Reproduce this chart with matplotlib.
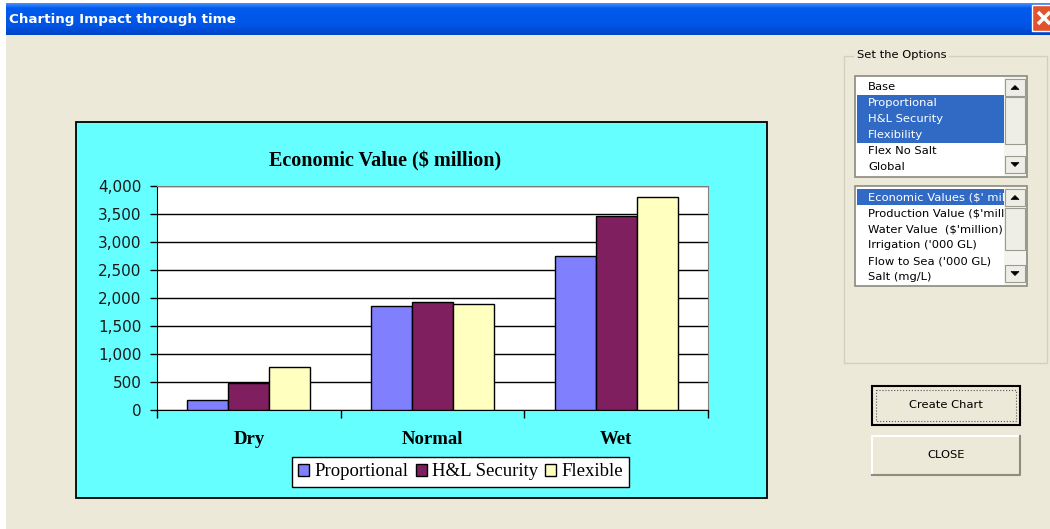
## Recreation of the "Charting Impact through time" dialog with its Economic Value chart

import numpy as np
import matplotlib
matplotlib.use('Agg')
import matplotlib.pyplot as plt
from matplotlib.patches import Rectangle, Polygon
from matplotlib.ticker import FuncFormatter


## Chart data

categories = ['Dry', 'Normal', 'Wet']
series_names = ['Proportional', 'H&L Security', 'Flexible']
proportional = [175, 1850, 2750]
hl_security = [480, 1920, 3460]
flexible = [760, 1890, 3800]
y_ticks = [0, 500, 1000, 1500, 2000, 2500, 3000, 3500, 4000]
chart_title = 'Economic Value ($ million)'


## Dialog contents

window_title = 'Charting Impact through time'
scenario_items = ['Base', 'Proportional', 'H&L Security', 'Flexibility', 'Flex No Salt', 'Global']
scenario_selected = [1, 2, 3]
measure_items = ["Economic Values ($' million)", "Production Value ($'million)", "Water Value  ($'million)",
                 "Irrigation ('000 GL)", "Flow to Sea ('000 GL)", "Salt (mg/L)"]
measure_selected = [0]


## Figure and a pixel-space background axes for the dialog chrome

W, H = 1050, 529
beige = '#ECE9D8'
ui_font = 'DejaVu Sans'
ui_size = 8.25
serif = 'Liberation Serif'

fig = plt.figure(figsize=(W / 100, H / 100), dpi=100)
bg = fig.add_axes([0, 0, 1, 1])
bg.axis('off')

bg.add_patch(Rectangle((0, 0), W, H, facecolor='white', edgecolor='none', zorder=0))
bg.add_patch(Rectangle((6, 35), W, H, facecolor=beige, edgecolor='none', zorder=0))

# title bar gradient
grad_cols = np.array([[0.27, 0.55, 0.98], [0.0, 0.36, 0.93], [0.0, 0.33, 0.90], [0.0, 0.27, 0.78]])
pos = np.linspace(0, 1, 32)
grad = np.stack([np.interp(pos, [0, 0.15, 0.7, 1], grad_cols[:, c]) for c in range(3)], axis=1)
bg.imshow(grad[:, None, :], extent=(6, W, 35, 3), aspect='auto', interpolation='bilinear', zorder=1)
bg.text(9, 19, window_title, color='white', fontsize=9.7, fontweight='bold', family=ui_font,
        va='center', zorder=3)

# close button
bg.add_patch(Rectangle((1032, 5), 26, 26, facecolor='#E2522C', edgecolor='white', lw=1, zorder=3))
bg.plot([1038, 1050], [12, 24], color='white', lw=2.5, solid_capstyle='butt', zorder=4)
bg.plot([1038, 1050], [24, 12], color='white', lw=2.5, solid_capstyle='butt', zorder=4)

# chart area box
bg.add_patch(Rectangle((76, 122), 691, 376, facecolor='#66FFFF', edgecolor='black', lw=1.3, zorder=1))


## Options group box

bg.add_patch(Rectangle((844, 56), 203, 307, fill=False, edgecolor='#D0D0BF', lw=1, zorder=1))
bg.text(857, 55, 'Set the Options', fontsize=ui_size, family=ui_font, va='center', zorder=2,
        bbox=dict(facecolor=beige, edgecolor='none', pad=2))


def scroll_button(y0, up):
    bg.add_patch(Rectangle((1005, y0), 20, 17, facecolor='#EEEDE6', edgecolor='#9D9B8F', lw=0.8, zorder=5))
    cx, cy = 1015, y0 + 8.5
    if up:
        tri = [(cx - 4, cy + 2), (cx + 4, cy + 2), (cx, cy - 2)]
    else:
        tri = [(cx - 4, cy - 2), (cx + 4, cy - 2), (cx, cy + 2)]
    bg.add_patch(Polygon(tri, closed=True, facecolor='black', edgecolor='black', lw=0.5, zorder=6))


def listbox(y0, h, items, selected, thumb):
    bg.add_patch(Rectangle((855, y0), 172, h, facecolor='white', edgecolor='none', zorder=1))
    for i, item in enumerate(items):
        yc = y0 + 11 + 16 * i
        if i in selected:
            bg.add_patch(Rectangle((857, yc - 8), 147, 16, facecolor='#316AC5', edgecolor='none', zorder=2))
        bg.text(868, yc, item, fontsize=ui_size, family=ui_font, va='center', zorder=3,
                color='white' if i in selected else 'black')
    # scrollbar, plus a cover for text running past the box
    bg.add_patch(Rectangle((1004, y0 + 1), 23, h - 2, facecolor='#F4F3EE', edgecolor='none', zorder=4))
    bg.add_patch(Rectangle((1027, y0), 16, h, facecolor=beige, edgecolor='none', zorder=4))
    scroll_button(y0 + 3, True)
    bg.add_patch(Rectangle((1005, thumb[0]), 20, thumb[1] - thumb[0], facecolor='#EEEDE6',
                           edgecolor='#9D9B8F', lw=0.8, zorder=5))
    scroll_button(y0 + h - 21, False)
    bg.add_patch(Rectangle((855, y0), 172, h, fill=False, edgecolor='#8A8A80', lw=1.2, zorder=6))


listbox(76, 101, scenario_items, scenario_selected, (97, 144))
listbox(186, 100, measure_items, measure_selected, (208, 250))


## Buttons

bg.add_patch(Rectangle((872, 386), 148, 39, facecolor=beige, edgecolor='black', lw=1.5, zorder=1))
bg.add_patch(Rectangle((876, 390), 140, 31, fill=False, edgecolor='#555555', ls=':', lw=0.8, zorder=2))
bg.text(946, 405.5, 'Create Chart', fontsize=ui_size, family=ui_font, ha='center', va='center', zorder=3)

bg.add_patch(Rectangle((872, 436), 148, 39, facecolor=beige, edgecolor='none', zorder=1))
bg.plot([872, 872, 1020], [475, 436, 436], color='white', lw=1.5, zorder=2)
bg.plot([872, 1020, 1020], [475, 475, 436], color='#8E8C80', lw=1.5, zorder=2)
bg.text(946, 455.5, 'CLOSE', fontsize=ui_size, family=ui_font, ha='center', va='center', zorder=3)

bg.set_xlim(0, W)
bg.set_ylim(H, 0)


## Chart

ax = fig.add_axes([157 / W, 1 - 410 / H, 551 / W, 224 / H])
ax.set_facecolor('white')

x = np.arange(len(categories))
w = 0.223
colors = ['#8080FF', '#7F1F5F', '#FFFFC0']
for i, (vals, col) in enumerate(zip([proportional, hl_security, flexible], colors)):
    ax.bar(x + (i - 1) * w, vals, w, color=col, edgecolor='black', linewidth=1,
           label=series_names[i], zorder=3)

ax.set_xlim(-0.5, len(categories) - 0.5)
ax.set_ylim(0, 4000)
ax.set_yticks(y_ticks)
ax.yaxis.set_major_formatter(FuncFormatter(lambda v, p: f'{int(v):,}'))
ax.yaxis.grid(True, color='black', lw=1)
ax.set_axisbelow(True)

for s in ['top', 'right']:
    ax.spines[s].set_color('#808080')
for s in ['left', 'bottom']:
    ax.spines[s].set_color('black')

ax.set_xticks(np.arange(len(categories) + 1) - 0.5)
ax.set_xticklabels([])
ax.set_xticks(x, minor=True)
ax.set_xticklabels(categories, minor=True, fontfamily=serif, fontweight='bold', fontsize=13.5)
ax.tick_params(axis='x', which='major', direction='out', length=6, width=1)
ax.tick_params(axis='x', which='minor', length=0, pad=15)
ax.tick_params(axis='y', direction='out', length=5, width=1, pad=6, labelsize=11)
for lbl in ax.get_yticklabels():
    lbl.set_fontfamily(ui_font)
    lbl.set_color('#1A1A1A')

fig.text(385 / W, 1 - 161 / H, chart_title, fontfamily=serif, fontweight='bold', fontsize=14.5,
         ha='center', va='center')

leg = ax.legend(loc='center', bbox_to_anchor=(460.5 / W, 1 - 472 / H), bbox_transform=fig.transFigure,
                ncol=3, frameon=True, fancybox=False, edgecolor='black', framealpha=1,
                prop={'family': serif, 'size': 13.5}, handlelength=0.6, handleheight=0.6,
                handletextpad=0.25, columnspacing=0.4, borderpad=0.35, borderaxespad=0)
leg.get_frame().set_linewidth(1)

fig.savefig('out.png', dpi=100)
